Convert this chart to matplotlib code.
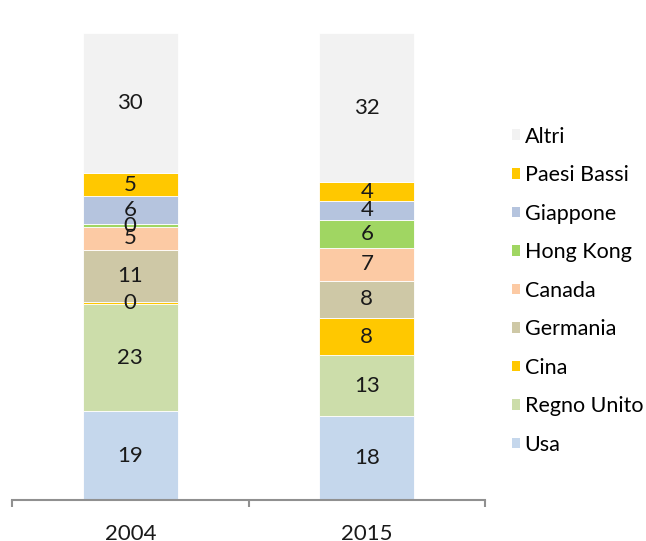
import matplotlib.pyplot as plt
from matplotlib.patches import Patch
import numpy as np

# data (percent shares)
years = ['2004', '2015']
categories = ['Usa', 'Regno Unito', 'Cina', 'Germania', 'Canada',
              'Hong Kong', 'Giappone', 'Paesi Bassi', 'Altri']
values_2004 = [19, 23, 0.5, 11, 5, 0.5, 6, 5, 30]
values_2015 = [18, 13, 8, 8, 7, 6, 4, 4, 32]
colors = ['#C5D7EC', '#CCDDAA', '#FFC800', '#CEC8A6', '#FCCAA4',
          '#A0D662', '#B5C4DE', '#FFC800', '#F2F2F2']

plt.rcParams['font.family'] = ['Lato', 'DejaVu Sans']

fig = plt.figure(figsize=(6.46, 5.41), dpi=100)
ax = fig.add_axes([12 / 646, 41 / 541, 473 / 646, 467 / 541])

data = np.array([values_2004, values_2015])
x = np.arange(len(years))
bottom = np.zeros(len(years))
for i, cat in enumerate(categories):
    vals = data[:, i]
    ax.bar(x, vals, width=0.4, bottom=bottom, color=colors[i],
           edgecolor='white', linewidth=0.6)
    for xi, v, b in zip(x, vals, bottom):
        ax.text(xi, b + v / 2, f'{int(v)}', ha='center', va='center',
                fontsize=16, color='#1a1a1a')
    bottom += vals

ax.set_xlim(-0.5, 1.5)
ax.set_ylim(0, 100)
for s in ['top', 'right', 'left']:
    ax.spines[s].set_visible(False)
ax.spines['bottom'].set_color('#909090')
ax.spines['bottom'].set_linewidth(1.5)
ax.set_yticks([])
ax.set_xticks([-0.5, 0.5, 1.5])
ax.set_xticklabels([])
ax.tick_params(axis='x', direction='out', length=5, width=1.5, color='#909090')
for xi, yr in zip(x, years):
    ax.text(xi, -5.2, yr, ha='center', va='top', fontsize=16, color='#1a1a1a')

handles = [Patch(facecolor=c, edgecolor='none') for c in colors][::-1]
labels = categories[::-1]
fig.legend(handles, labels, loc='upper left', bbox_to_anchor=(503 / 646, 1 - 118 / 541),
           frameon=False, fontsize=15.5, handlelength=0.4, handleheight=0.4,
           handletextpad=0.2, labelspacing=0.86, borderaxespad=0)

fig.savefig('out.png', dpi=100)
